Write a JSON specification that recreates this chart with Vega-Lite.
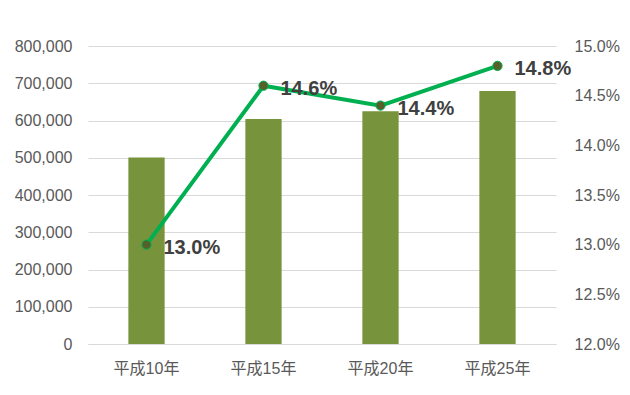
{
  "$schema": "https://vega.github.io/schema/vega-lite/v6.json",
  "width": 468,
  "height": 298,
  "autosize": {"type": "none"},
  "padding": {"left": 88, "top": 46, "right": 74, "bottom": 51},
  "background": "white",
  "config": {
    "view": {"stroke": null},
    "font": "Liberation Sans, Noto Sans CJK JP",
    "axis": {"labelFont": "Liberation Sans, Noto Sans CJK JP", "labelColor": "#595959", "labelFontSize": 16}
  },
  "data": {
    "values": [
      {"year": "平成10年", "value": 501000, "pct": 0.130},
      {"year": "平成15年", "value": 604000, "pct": 0.146},
      {"year": "平成20年", "value": 625000, "pct": 0.144},
      {"year": "平成25年", "value": 679000, "pct": 0.148}
    ]
  },
  "encoding": {
    "x": {
      "field": "year", "type": "nominal", "sort": null,
      "scale": {"paddingInner": 0.69, "paddingOuter": 0.345},
      "axis": {"title": null, "labelAngle": 0, "ticks": false, "domain": true, "domainColor": "#d9d9d9", "domainWidth": 1, "labelPadding": 16}
    }
  },
  "layer": [
    {
      "mark": {"type": "bar", "color": "#77933C"},
      "encoding": {
        "y": {
          "field": "value", "type": "quantitative",
          "scale": {"domain": [0, 800000], "nice": false},
          "axis": {"title": null, "orient": "left", "values": [0,100000,200000,300000,400000,500000,600000,700000,800000], "format": ",d", "ticks": false, "domain": false, "grid": true, "gridColor": "#d9d9d9", "gridWidth": 1, "labelPadding": 16}
        }
      }
    },
    {
      "layer": [
        {
          "mark": {"type": "line", "color": "#00B050", "strokeWidth": 4},
          "encoding": {}
        },
        {
          "mark": {"type": "point", "filled": true, "size": 85, "color": "#55602A", "stroke": "#00B050", "strokeWidth": 1, "opacity": 1},
          "encoding": {}
        },
        {
          "mark": {"type": "text", "align": "left", "baseline": "middle", "dx": 17, "dy": 3, "fontSize": 20, "fontWeight": "bold", "color": "#404040"},
          "encoding": {"text": {"field": "pct", "type": "quantitative", "format": ".1%"}}
        }
      ],
      "encoding": {
        "y": {
          "field": "pct", "type": "quantitative",
          "scale": {"domain": [0.12, 0.15], "nice": false, "zero": false},
          "axis": {"title": null, "orient": "right", "values": [0.12,0.125,0.13,0.135,0.14,0.145,0.15], "format": ".1%", "ticks": false, "domain": false, "grid": false, "labelPadding": 18}
        }
      }
    }
  ],
  "resolve": {"scale": {"y": "independent"}}
}
